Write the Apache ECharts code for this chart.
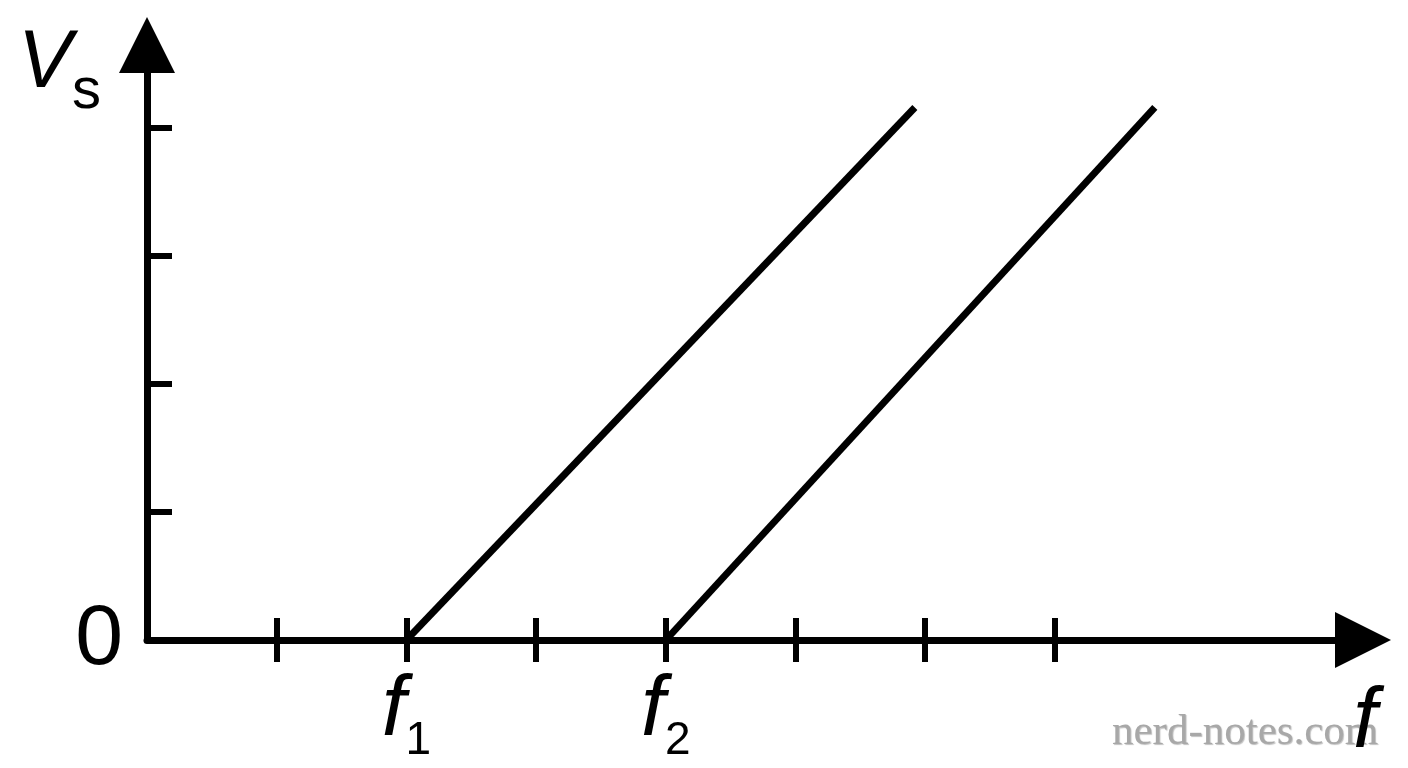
<!DOCTYPE html>
<html>
<head>
<meta charset="utf-8">
<script src="https://cdn.jsdelivr.net/npm/echarts@6/dist/echarts.min.js"></script>
<style>
html,body{margin:0;padding:0;background:#fff;}
#chart{width:1408px;height:768px;}
</style>
</head>
<body>
<div id="chart"></div>
<script>
// Data (axis units: one x tick = 1, one y tick = 1)
const xTicks = [1, 2, 3, 4, 5, 6, 7];
const yTicks = [1, 2, 3, 4];
const xLabelValues = [2, 4];
const xLabelNames = { 2: '1', 4: '2' };
const line1 = [[2, 0], [5.92, 4.16]];
const line2 = [[4, 0], [7.77, 4.16]];
const xMax = 9.375;
const yMax = 4.648;

const FONT = "'Liberation Sans', Arial, sans-serif";
const chart = echarts.init(document.getElementById('chart'));

const baseX = {
  type: 'value', min: 0, max: xMax, position: 'bottom',
  splitLine: { show: false }
};

chart.setOption({
  animation: false,
  backgroundColor: '#fff',
  grid: { left: 147, right: 45, top: 45, bottom: 128, containLabel: false },
  xAxis: [
    Object.assign({}, baseX, {
      name: '{i|f}',
      nameLocation: 'end',
      nameGap: -10,
      nameTextStyle: {
        align: 'left', verticalAlign: 'top', padding: [40, 0, 0, 0],
        rich: { i: { fontFamily: FONT, fontStyle: 'italic', fontSize: 86, color: '#000' } }
      },
      axisLine: {
        show: true, onZero: false,
        lineStyle: { color: '#000', width: 7 },
        symbol: ['none', 'triangle'], symbolSize: [56, 56]
      },
      axisTick: { show: true, inside: false, length: 22, lineStyle: { color: '#000', width: 6 }, customValues: xTicks },
      axisLabel: {
        show: true, margin: 38, customValues: xLabelValues,
        formatter: function (v) { return '{i|f}{s|' + xLabelNames[v] + '}'; },
        rich: {
          i: { fontFamily: FONT, fontStyle: 'italic', fontSize: 86, lineHeight: 86, color: '#000', padding: [0, 0, 10, 0], verticalAlign: 'bottom' },
          s: { fontFamily: FONT, fontSize: 46, lineHeight: 46, color: '#000', verticalAlign: 'bottom' }
        }
      }
    }),
    Object.assign({}, baseX, {
      axisLine: { show: false },
      axisTick: { show: true, inside: true, length: 22, lineStyle: { color: '#000', width: 6 }, customValues: xTicks },
      axisLabel: { show: false }
    })
  ],
  yAxis: {
    type: 'value', min: 0, max: yMax,
    splitLine: { show: false },
    name: '{v|V}{s|s}',
    nameLocation: 'end',
    nameGap: 5,
    nameTextStyle: {
      align: 'right', verticalAlign: 'top', padding: [0, 46, 0, 0],
      rich: {
        v: { fontFamily: FONT, fontStyle: 'italic', fontSize: 81, lineHeight: 81, color: '#000', padding: [0, 0, 16, 0], verticalAlign: 'bottom' },
        s: { fontFamily: FONT, fontSize: 58, lineHeight: 58, color: '#000', verticalAlign: 'bottom' }
      }
    },
    axisLine: {
      show: true, onZero: false,
      lineStyle: { color: '#000', width: 7 },
      symbol: ['none', 'triangle'], symbolSize: [56, 56]
    },
    axisTick: { show: true, inside: true, length: 25, lineStyle: { color: '#000', width: 6 }, customValues: yTicks },
    axisLabel: {
      show: true, margin: 24, customValues: [0],
      fontFamily: FONT, fontSize: 86, color: '#000'
    }
  },
  graphic: [{
    type: 'text', z: -10,
    left: 1112, top: 711,
    style: {
      text: 'nerd-notes.com',
      font: "43px 'Liberation Serif', 'DejaVu Serif', serif",
      fill: '#a8a8a8',
      textShadowColor: 'rgba(0,0,0,0.25)', textShadowOffsetX: 1, textShadowOffsetY: 1, textShadowBlur: 1
    }
  }],
  series: [
    { type: 'line', data: line1, symbol: 'none', lineStyle: { color: '#000', width: 7 }, z: 3 },
    { type: 'line', data: line2, symbol: 'none', lineStyle: { color: '#000', width: 7 }, z: 3 }
  ]
});
</script>
</body>
</html>
